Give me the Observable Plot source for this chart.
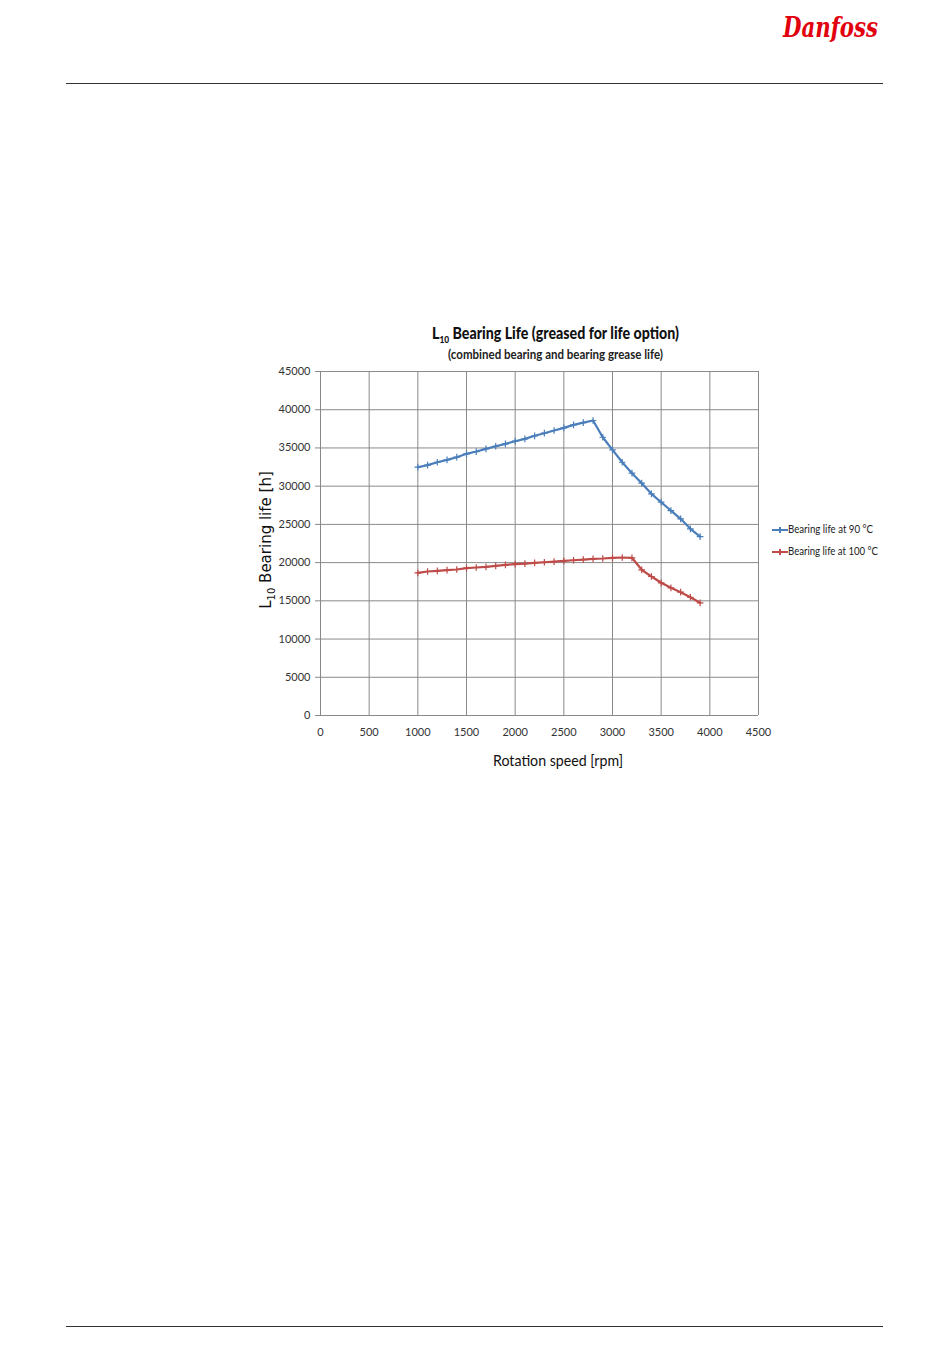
<!DOCTYPE html>
<html>
<head>
<meta charset="utf-8">
<script src="https://cdn.jsdelivr.net/npm/d3@7"></script>
<script src="https://cdn.jsdelivr.net/npm/@observablehq/plot@0.6"></script>
<style>
  html, body { margin: 0; padding: 0; background: #fff; }
  #page { position: relative; width: 950px; height: 1370px; overflow: hidden; background: #fff; }
  .rule { position: absolute; height: 0; border-top: 1.3px solid #333; }
  .abs { position: absolute; white-space: nowrap; transform-origin: 0 50%; }
  .narrow { font-family: Lato, "Liberation Sans", sans-serif; }
  #logo { top: 12px; font-family: "DejaVu Serif", "Liberation Serif", serif; font-style: italic; font-weight: bold; font-size: 27px; color: #e2000f; }
  #title { top: 322px; font-size: 17px; font-weight: 900; color: #111; }
  #subtitle { top: 346px; font-size: 13px; font-weight: bold; color: #222; }
  #xtitle { top: 750px; font-size: 16px; color: #111; }
  #ytitle { left: 267px; top: 540px; font-family: "DejaVu Sans", Verdana, sans-serif; font-size: 15px; color: #111; transform-origin: 50% 50%; transform: translate(-50%, -50%) rotate(-90deg); }
  .leg { font-size: 11px; color: #222; }
  .legline { position: absolute; width: 16px; height: 0; border-top: 2px solid; }
  .legmark { position: absolute; width: 0; height: 6px; border-left: 2px solid; }
  #chart { position: absolute; left: 0; top: 300px; }
</style>
</head>
<body>
<div id="page">
  <div id="logo" class="abs">Danfoss</div>
  <div class="rule" style="left:66px; width:817px; top:83px;"></div>
  <div class="rule" style="left:66px; width:817px; top:1326px;"></div>

  <div id="title" class="abs narrow">L<sub style="font-size:10px">10</sub> Bearing Life (greased for life option)</div>
  <div id="subtitle" class="abs narrow">(combined bearing and bearing grease life)</div>
  <div id="chart"></div>
  <div id="ytitle" class="abs">L<sub style="font-size:10px">10</sub> Bearing life [h]</div>
  <div id="xtitle" class="abs narrow">Rotation speed [rpm]</div>

  <div class="legline" style="left:772px; top:529px; border-color:#4a7ebb;"></div>
  <div class="legmark" style="left:779px; top:527px; border-color:#4a7ebb;"></div>
  <div id="leg1" class="abs narrow leg" style="top:522px;">Bearing life at 90 °C</div>
  <div class="legline" style="left:772px; top:551px; border-color:#be4b48;"></div>
  <div class="legmark" style="left:779px; top:549px; border-color:#be4b48;"></div>
  <div id="leg2" class="abs narrow leg" style="top:544px;">Bearing life at 100 °C</div>
</div>
<script>
// ---- data ----
const speeds = [1000,1100,1200,1300,1400,1500,1600,1700,1800,1900,2000,2100,2200,2300,2400,2500,2600,2700,2800,2900,3000,3100,3200,3300,3400,3500,3600,3700,3800,3900];
const life90 = [32480,32750,33130,33440,33790,34230,34530,34880,35220,35540,35880,36190,36590,36930,37280,37630,38020,38320,38590,36400,34750,33130,31700,30390,29000,27900,26810,25730,24420,23410];
const life100 = [18660,18835,18920,19010,19100,19270,19360,19450,19580,19710,19790,19880,19970,20050,20140,20230,20310,20400,20500,20540,20630,20670,20630,19060,18180,17360,16700,16130,15470,14740];
const seriesNames = ["Bearing life at 90 °C", "Bearing life at 100 °C"];
const seriesColors = ["#4a7ebb", "#be4b48"];
const xTicks = [0,500,1000,1500,2000,2500,3000,3500,4000,4500];
const yTicks = [0,5000,10000,15000,20000,25000,30000,35000,40000,45000];

const rows = [];
speeds.forEach((s, i) => {
  rows.push({speed: s, life: life90[i], series: seriesNames[0]});
  rows.push({speed: s, life: life100[i], series: seriesNames[1]});
});

const chart = Plot.plot({
  width: 950,
  height: 500,
  marginLeft: 320,
  marginRight: 192,
  marginTop: 71,
  marginBottom: 85,
  style: {fontFamily: "Lato, 'Liberation Sans', sans-serif", fontSize: "11px", color: "#333", background: "transparent"},
  x: {domain: [0, 4500], ticks: xTicks, tickFormat: d => String(d), label: null},
  y: {domain: [0, 45000], ticks: yTicks, tickFormat: d => String(d), label: null},
  color: {domain: seriesNames, range: seriesColors},
  marks: [
    Plot.gridX(xTicks, {stroke: "#8a8a8a", strokeOpacity: 1, strokeWidth: 1}),
    Plot.gridY(yTicks, {stroke: "#8a8a8a", strokeOpacity: 1, strokeWidth: 1}),
    Plot.ruleX([0], {stroke: "#888", strokeWidth: 1}),
    Plot.ruleY([0], {stroke: "#888", strokeWidth: 1}),
    Plot.axisY({ticks: yTicks, tickFormat: d => String(d), tickSize: 5, tickPadding: 5, stroke: "#888", label: null}),
    Plot.axisX({ticks: xTicks, tickFormat: d => String(d), tickSize: 0, tickPadding: 13, label: null}),
    Plot.line(rows, {x: "speed", y: "life", z: "series", stroke: "series", strokeWidth: 2.2, curve: "linear"}),
    Plot.dot(rows, {x: "speed", y: "life", fill: "series", stroke: "series", strokeWidth: 1.2, symbol: "plus", r: 2.3})
  ]
});
document.getElementById("chart").appendChild(chart);

// Fit HTML texts to the widths seen in the reference (layout only)
function fit(id, width, left, center) {
  const el = document.getElementById(id);
  const w = el.getBoundingClientRect().width;
  const s = width / w;
  el.style.left = (center ? left - width / 2 : left) + "px";
  el.style.transform = `scaleX(${s})`;
}
fit("title", 247, 555.5, true);
fit("subtitle", 215, 555.5, true);
fit("xtitle", 130, 558, true);
fit("leg1", 85, 788, false);
fit("leg2", 90, 788, false);
fit("logo", 95, 783, false);
</script>
</body>
</html>
